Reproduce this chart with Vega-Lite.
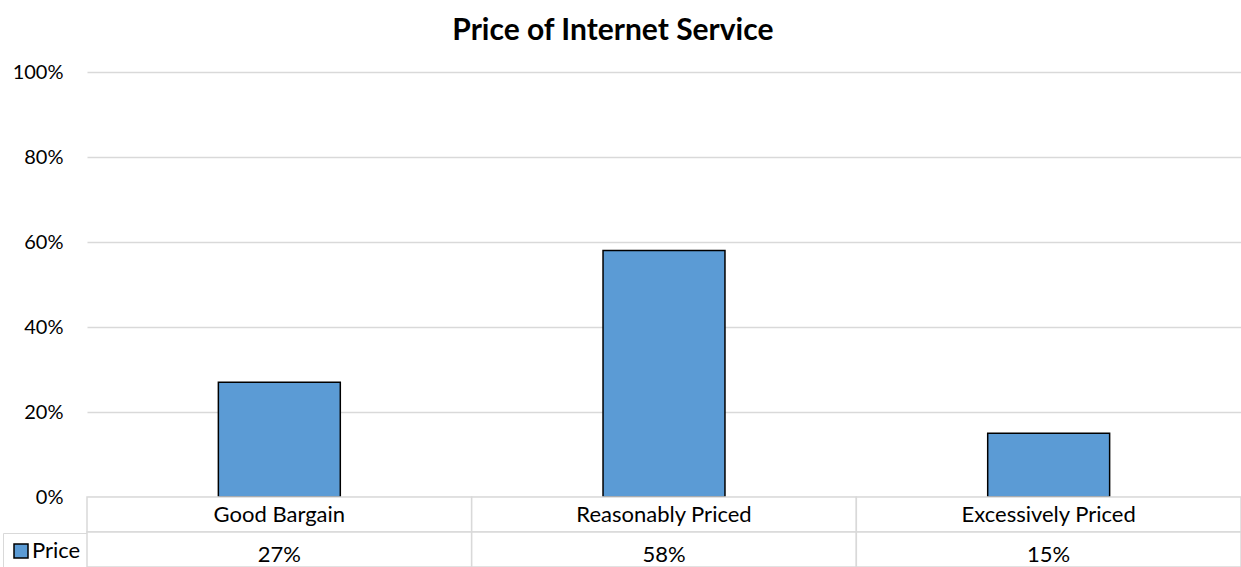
{
  "$schema": "https://vega.github.io/schema/vega-lite/v6.json",
  "padding": {"left": 0, "top": 16, "right": 0, "bottom": 0},
  "background": "white",
  "config": {"font": "Lato", "view": {"stroke": null}, "concat": {"spacing": 0}},
  "title": {"text": "Price of Internet Service", "fontSize": 30, "fontWeight": "bold", "color": "#000", "anchor": "middle", "frame": "bounds", "offset": 16, "dx": -8},
  "data": {"values": [
    {"category": "Good Bargain", "value": 0.27},
    {"category": "Reasonably Priced", "value": 0.58},
    {"category": "Excessively Priced", "value": 0.15}
  ]},
  "bounds": "flush",
  "spacing": 0,
  "resolve": {"scale": {"x": "independent", "color": "independent"}, "legend": {"color": "independent"}},
  "vconcat": [
    {
      "width": 1154,
      "height": 425,
      "mark": {"type": "bar", "stroke": "#000", "strokeWidth": 1.5},
      "encoding": {
        "x": {"field": "category", "type": "nominal", "sort": null, "scale": {"paddingInner": 0.683, "paddingOuter": 0.3415}, "axis": null},
        "y": {"field": "value", "type": "quantitative", "scale": {"domain": [0, 1], "nice": false},
          "axis": {"values": [0, 0.2, 0.4, 0.6, 0.8, 1], "format": ".0%", "title": null, "domain": false, "ticks": false, "grid": true, "gridColor": "#d9d9d9", "gridWidth": 1.5, "labelFontSize": 20, "labelColor": "#000", "labelPadding": 24, "minExtent": 87, "maxExtent": 87}},
        "color": {"datum": "Price", "scale": {"range": ["#5B9BD5"]},
          "legend": {"orient": "none", "legendX": -84, "legendY": 461, "title": null, "symbolType": "square", "symbolSize": 196, "symbolStrokeColor": "#000", "symbolStrokeWidth": 1.5, "symbolFillColor": "#5B9BD5", "symbolOffset": 0, "labelFontSize": 22, "labelColor": "#000", "strokeColor": "#d9d9d9", "fillColor": "white", "padding": 7, "labelOffset": 0}}
      }
    },
    {
      "width": 1154,
      "height": 70,
      "encoding": {
        "x": {"field": "category", "type": "nominal", "sort": null, "scale": {"paddingInner": 0, "paddingOuter": 0}, "axis": null}
      },
      "layer": [
        {
          "mark": {"type": "rect", "fill": "white", "stroke": "#d9d9d9", "strokeWidth": 1.5},
          "encoding": {"y": {"datum": "cat", "type": "nominal", "scale": {"domain": ["cat", "val"], "paddingInner": 0, "paddingOuter": 0}, "axis": null}}
        },
        {
          "mark": {"type": "rect", "fill": "white", "stroke": "#d9d9d9", "strokeWidth": 1.5},
          "encoding": {"y": {"datum": "val", "type": "nominal"}}
        },
        {
          "mark": {"type": "text", "fontSize": 22, "color": "#000", "baseline": "middle"},
          "encoding": {"y": {"datum": "cat", "type": "nominal"}, "text": {"field": "category"}}
        },
        {
          "mark": {"type": "text", "fontSize": 22, "color": "#000", "baseline": "middle", "dy": 5},
          "encoding": {"y": {"datum": "val", "type": "nominal"}, "text": {"field": "value", "format": ".0%"}}
        }
      ]
    }
  ]
}
